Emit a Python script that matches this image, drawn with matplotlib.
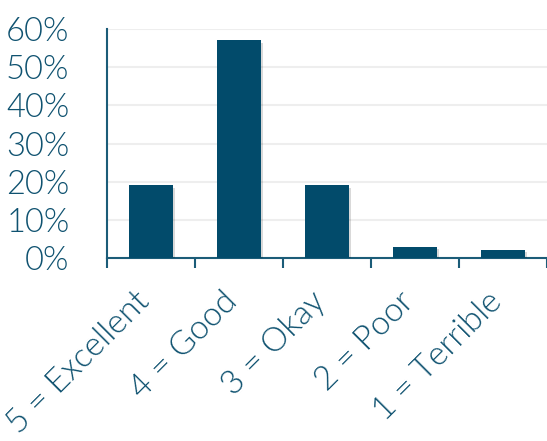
import matplotlib
matplotlib.use("Agg")
import matplotlib.pyplot as plt
import matplotlib.patheffects as pe
from matplotlib.transforms import ScaledTranslation
from matplotlib.ticker import FixedLocator, PercentFormatter

categories = ["5 = Excellent", "4 = Good", "3 = Okay", "2 = Poor", "1 = Terrible"]
shares = [19, 57, 19, 3, 2]
y_ticks = [0, 10, 20, 30, 40, 50, 60]

bar_color = "#024b6b"
text_color = "#1b5c78"
label_color = "#0f5270"

plt.rcParams["font.family"] = ["Lato", "DejaVu Sans"]

fig = plt.figure(figsize=(5.47, 4.41), dpi=100)
ax = fig.add_axes([107 / 547, 1 - 258 / 441, 440 / 547, 229 / 441])

x = list(range(len(categories)))
bars = ax.bar(x, shares, width=0.5, color=bar_color, zorder=3)
for b in bars:
    b.set_path_effects([pe.SimplePatchShadow(offset=(1.5, -1.5), shadow_rgbFace="#000000", alpha=0.15), pe.Normal()])

ax.set_xlim(-0.5, len(categories) - 0.5)
ax.set_ylim(0, 60)
ax.yaxis.set_major_locator(FixedLocator(y_ticks))
ax.yaxis.set_major_formatter(PercentFormatter(decimals=0))
ax.grid(axis="y", color="#eeeeee", linewidth=1.5, zorder=0)
ax.set_axisbelow(True)

# boundary ticks between categories, labels at category centres
ax.set_xticks([i - 0.5 for i in range(len(categories) + 1)])
ax.set_xticklabels([])
ax.set_xticks(x, minor=True)
ax.set_xticklabels(categories, minor=True, rotation=45, ha="right", va="center",
                   rotation_mode="anchor", fontsize=24, color=label_color)
ax.tick_params(axis="x", which="major", length=7.5, width=1.5, color=text_color, direction="out")
ax.tick_params(axis="x", which="minor", length=0, pad=28)
ax.tick_params(axis="y", length=0, pad=27, labelsize=23.5, labelcolor=label_color)
shift = ScaledTranslation(-6 / 100, 0, fig.dpi_scale_trans)
for lbl in ax.get_xticklabels(minor=True):
    lbl.set_transform(lbl.get_transform() + shift)
for lbl in ax.get_yticklabels() + ax.get_xticklabels(minor=True):
    lbl.set_fontweight(300)

for side in ["top", "right"]:
    ax.spines[side].set_visible(False)
for side in ["left", "bottom"]:
    ax.spines[side].set_color(text_color)
    ax.spines[side].set_linewidth(1.5)
ax.spines["left"].set_bounds(0, 60)

fig.savefig("out.png", dpi=100)
